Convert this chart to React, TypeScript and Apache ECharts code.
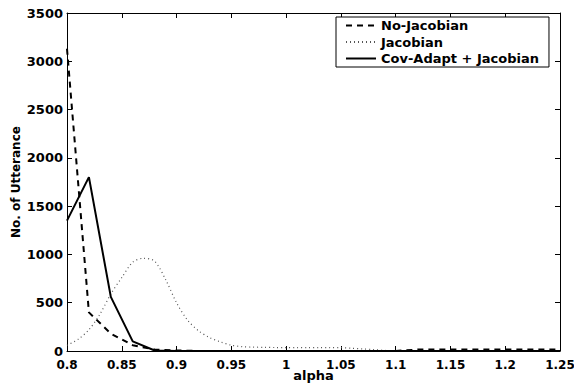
import React, { useEffect, useRef } from "react";
import * as echarts from "echarts";

const alphaCoarse = [0.8, 0.82, 0.84, 0.86, 0.88, 0.9, 0.92, 0.94, 0.96, 0.98, 1.0, 1.02, 1.04, 1.06, 1.08, 1.1, 1.12, 1.14, 1.16, 1.18, 1.2, 1.22, 1.24, 1.25];
const noJacobian = [3130, 400, 180, 60, 15, 5, 0, 0, 0, 0, 0, 0, 0, 0, 0, 0, 15, 15, 15, 15, 15, 15, 15, 15];
const covAdapt = [1350, 1800, 560, 100, 5, 0, 0, 0, 0, 0, 0, 0, 0, 0, 0, 0, 0, 0, 0, 0, 0, 0, 0, 0];

const alphaFine = [0.8, 0.81, 0.82, 0.83, 0.84, 0.85, 0.86, 0.87, 0.88, 0.89, 0.9, 0.91, 0.92, 0.93, 0.94, 0.95, 0.96, 0.97, 0.98, 0.99, 1.0, 1.01, 1.02, 1.03, 1.04, 1.05, 1.06, 1.07, 1.08, 1.09, 1.1];
const jacobian = [60, 120, 220, 380, 590, 760, 920, 960, 930, 740, 500, 320, 210, 140, 95, 60, 45, 40, 38, 36, 35, 35, 35, 35, 35, 35, 28, 22, 15, 6, 0];

const seriesNames = ["No-Jacobian", "Jacobian", "Cov-Adapt + Jacobian"];

const FONT = "DejaVu Sans";

export default function App() {
  const ref = useRef<HTMLDivElement>(null);
  useEffect(() => {
    if (!ref.current) return;
    const chart = echarts.init(ref.current, null, { renderer: "svg" });
    const fmt = (v: number) => String(+v.toFixed(2));
    const axisCommon = {
      axisLine: { show: true, onZero: false, lineStyle: { color: "#000", width: 1 } },
      axisTick: { show: true, inside: true, length: 5, lineStyle: { color: "#000" } },
      splitLine: { show: false },
    };
    const labelStyle = { color: "#000", fontFamily: FONT, fontWeight: "bold" as const, fontSize: 13, lineHeight: 12 };
    chart.setOption({
      animation: false,
      backgroundColor: "#fff",
      grid: { left: 67, right: 14, top: 13, bottom: 32, containLabel: false, outerBoundsMode: "none" },
      legend: {
        orient: "vertical",
        left: 336,
        top: 17,
        data: seriesNames,
        itemWidth: 30,
        itemHeight: 13,
        itemGap: 3.5,
        padding: [2, 10, 2, 9],
        borderColor: "#000",
        borderWidth: 1,
        backgroundColor: "#fff",
        itemStyle: { opacity: 0, borderWidth: 0 },
        textStyle: { color: "#000", fontFamily: FONT, fontWeight: "bold", fontSize: 13 },
      },
      xAxis: [
        {
          type: "value",
          position: "bottom",
          min: 0.8,
          max: 1.25,
          interval: 0.05,
          name: "alpha",
          nameLocation: "middle",
          nameGap: 18,
          nameMoveOverlap: false,
          nameTextStyle: labelStyle,
          axisLabel: { ...labelStyle, fontSize: 12, lineHeight: 11, margin: 8, formatter: fmt },
          ...axisCommon,
        },
        {
          type: "value",
          position: "top",
          min: 0.8,
          max: 1.25,
          interval: 0.05,
          axisLabel: { show: false },
          ...axisCommon,
        },
      ],
      yAxis: [
        {
          type: "value",
          position: "left",
          min: 0,
          max: 3500,
          interval: 500,
          name: "No. of Utterance",
          nameLocation: "middle",
          nameGap: 45,
          nameMoveOverlap: false,
          nameTextStyle: { ...labelStyle, fontSize: 12 },
          axisLabel: { ...labelStyle, lineHeight: 10, margin: 4, formatter: (v: number) => String(v) },
          ...axisCommon,
        },
        {
          type: "value",
          position: "right",
          min: 0,
          max: 3500,
          interval: 500,
          axisLabel: { show: false },
          ...axisCommon,
        },
      ],
      series: [
        {
          name: seriesNames[0],
          type: "line",
          symbol: "none",
          data: alphaCoarse.map((x, i) => [x, noJacobian[i]]),
          lineStyle: { color: "#000", width: 2, type: [6, 5] },
          itemStyle: { color: "#000" },
        },
        {
          name: seriesNames[1],
          type: "line",
          symbol: "none",
          smooth: 0.3,
          data: alphaFine.map((x, i) => [x, jacobian[i]]),
          lineStyle: { color: "#555", width: 1.2, type: [1, 3] },
          itemStyle: { color: "#555" },
        },
        {
          name: seriesNames[2],
          type: "line",
          symbol: "none",
          data: alphaCoarse.map((x, i) => [x, covAdapt[i]]),
          lineStyle: { color: "#000", width: 2, type: "solid" },
          itemStyle: { color: "#000" },
        },
      ],
    });
    return () => chart.dispose();
  }, []);
  return (
    <div
      ref={ref}
      style={{ position: "fixed", left: 0, top: 0, width: 574, height: 383, background: "#fff" }}
    />
  );
}
